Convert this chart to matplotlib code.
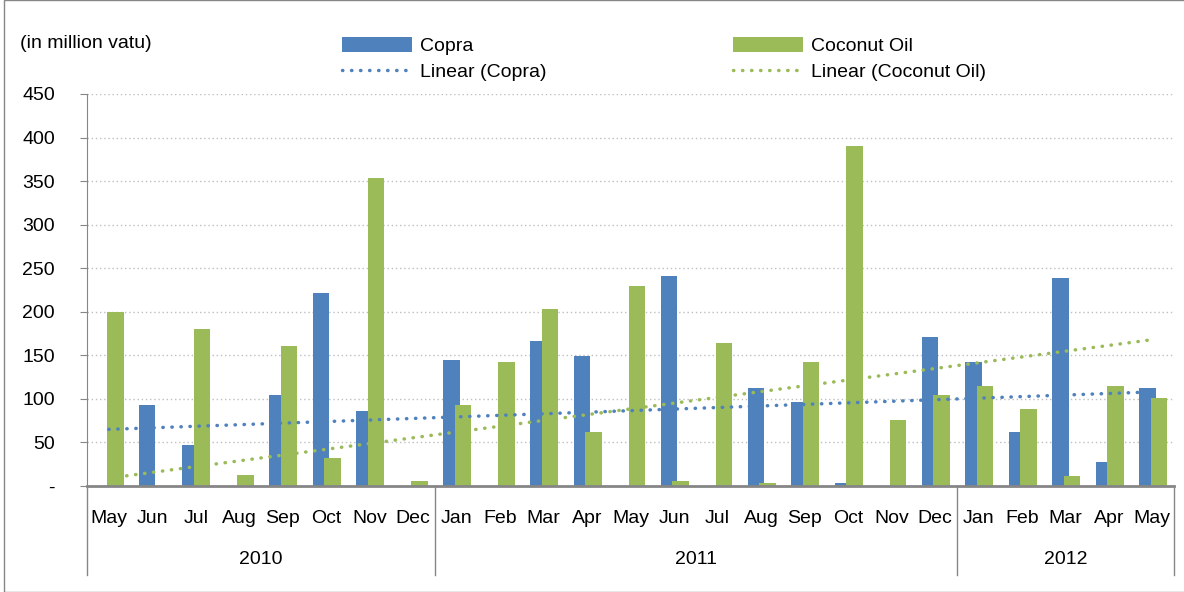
import matplotlib
matplotlib.use("Agg")
import matplotlib.pyplot as plt
import matplotlib.transforms as mtransforms
from matplotlib.patches import Rectangle
import numpy as np

plt.rcParams['font.family'] = ['Liberation Sans', 'DejaVu Sans']

# data (million vatu)
months = ["May", "Jun", "Jul", "Aug", "Sep", "Oct", "Nov", "Dec",
          "Jan", "Feb", "Mar", "Apr", "May", "Jun", "Jul", "Aug", "Sep", "Oct", "Nov", "Dec",
          "Jan", "Feb", "Mar", "Apr", "May"]
years = ["2010", "2011", "2012"]
year_counts = [8, 12, 5]
copra = [0, 93, 47, 0, 105, 222, 86, 0,
         145, 0, 166, 149, 0, 241, 0, 113, 96, 3, 0, 171,
         142, 62, 239, 28, 113]
coconut_oil = [200, 0, 180, 13, 161, 32, 353, 6,
               93, 142, 203, 62, 230, 6, 164, 3, 142, 390, 76, 105,
               115, 88, 11, 115, 101]
# trendline end values as shown on the chart
copra_trend = [65, 108]
oil_trend = [9, 168]

blue = "#4F81BD"
green = "#9BBB59"
grey = "#868686"
fs = 14

fig = plt.figure(figsize=(11.84, 5.92), dpi=100)
ax = fig.add_axes([87/1184, 1-486/592, (1174-87)/1184, 392/592])

x = np.arange(len(months))
w = 0.38
ax.bar(x - 0.115, copra, w, color=blue, zorder=3, label="Copra")
ax.bar(x + 0.15, coconut_oil, w, color=green, zorder=3, label="Coconut Oil")

l1, = ax.plot([0, len(months)-1], copra_trend, color=blue, lw=2.5,
              linestyle=(0, (0.1, 2.5)), dash_capstyle="round", zorder=4,
              label="Linear (Copra)")
l2, = ax.plot([0, len(months)-1], oil_trend, color=green, lw=2.5,
              linestyle=(0, (0.1, 2.5)), dash_capstyle="round", zorder=4,
              label="Linear (Coconut Oil)")

ax.set_xlim(-0.5, len(months)-0.5)
ax.set_ylim(0, 450)
ax.set_yticks(range(0, 451, 50))
ax.set_yticklabels(["-"] + [str(v) for v in range(50, 451, 50)], fontsize=fs)
ax.yaxis.grid(True, color="#BFBFBF", linestyle=(0, (1, 2)), lw=1, zorder=0)
ax.tick_params(axis="y", length=5, color=grey, pad=18)

ax.set_xticks(x)
ax.set_xticklabels(months, fontsize=fs)
ax.tick_params(axis="x", length=0, pad=17)

for s in ["top", "right"]:
    ax.spines[s].set_visible(False)
ax.spines["left"].set_color(grey)
ax.spines["bottom"].set_color(grey)
ax.spines["bottom"].set_linewidth(2)
ax.spines["bottom"].set_zorder(5)

# year group labels and separators
trans = mtransforms.blended_transform_factory(ax.transData, ax.transAxes)
edges = np.concatenate([[0], np.cumsum(year_counts)]) - 0.5
for e in edges:
    ax.plot([e, e], [0, -89/392], color=grey, lw=1, transform=trans, clip_on=False)
for i, yr in enumerate(years):
    ax.text((edges[i] + edges[i+1]) / 2, -74/392, yr, transform=trans,
            ha="center", va="center", fontsize=fs)

fig.text(20/1184, 1-44/592, "(in million vatu)", fontsize=fs, va="center")

bars = ax.containers
leg_kw = dict(loc="upper left", frameon=False, fontsize=fs, handlelength=3.6,
              handleheight=0.8, labelspacing=0.4, handletextpad=0.4,
              borderaxespad=0)
fig.legend([bars[0], l1], ["Copra", "Linear (Copra)"],
           bbox_to_anchor=(334/1184, 1-29/592), **leg_kw)
fig.legend([bars[1], l2], ["Coconut Oil", "Linear (Coconut Oil)"],
           bbox_to_anchor=(725/1184, 1-29/592), **leg_kw)

fig.patches.append(Rectangle((4/1184, 0), 1.0, 1.0, transform=fig.transFigure,
                             fill=False, edgecolor=grey, lw=1))

fig.savefig("out.png", dpi=100)
